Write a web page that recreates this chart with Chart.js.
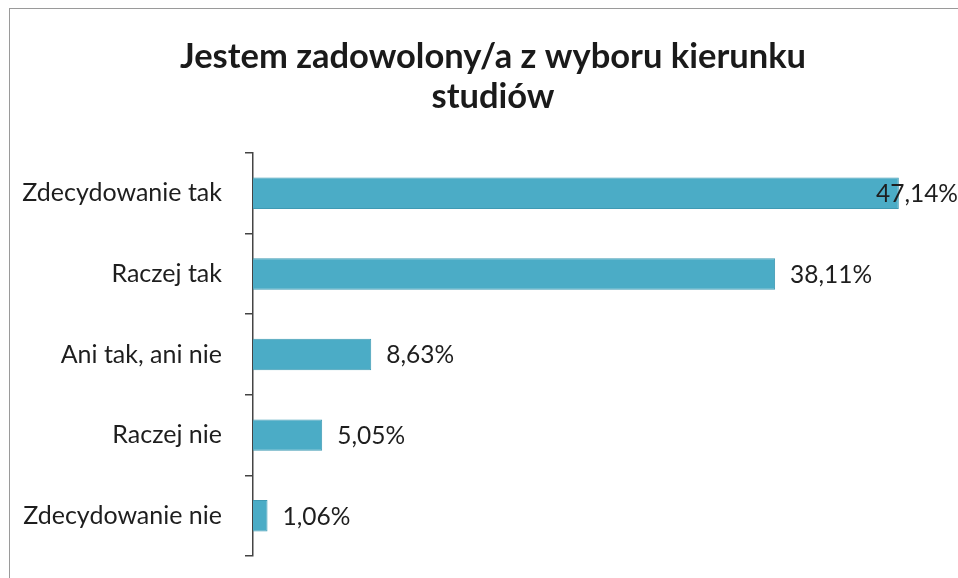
<!DOCTYPE html>
<html>
<head>
<meta charset="utf-8">
<script src="https://cdn.jsdelivr.net/npm/chart.js@4.4.1/dist/chart.umd.min.js"></script>
<style>
  html, body { margin:0; padding:0; background:#fff; overflow:hidden; }
  #wrap { position:relative; width:958px; height:578px; }
  #frame { position:absolute; left:9px; top:8px; width:960px; height:580px; border-left:1px solid #9a9a9a; border-top:1px solid #9a9a9a; box-sizing:border-box; pointer-events:none; }
  canvas { position:absolute; left:0; top:0; }
</style>
</head>
<body>
<div id="wrap">
  <canvas id="c" width="958" height="578"></canvas>
  <div id="frame"></div>
</div>
<script>
const titleLines = ['Jestem zadowolony/a z wyboru kierunku', 'studiów'];
const categories = ['Zdecydowanie tak', 'Raczej tak', 'Ani tak, ani nie', 'Raczej nie', 'Zdecydowanie nie'];
const values = [47.14, 38.11, 8.63, 5.05, 1.06];
const valueLabels = ['47,14%', '38,11%', '8,63%', '5,05%', '1,06%'];
const xMin = 0, xMax = 50;

const FONT = 'Lato, "Open Sans", sans-serif';
const LABEL_SIZE = 25;

const dataLabels = {
  id: 'dataLabels',
  afterLayout(chart) {
    // the original frame extends past the right edge; centre title on it
    if (chart.titleBlock) chart.titleBlock.left = 48;
  },
  afterDatasetsDraw(chart) {
    const ctx = chart.ctx;
    const meta = chart.getDatasetMeta(0);
    ctx.save();
    ctx.font = '24.5px ' + FONT;
    ctx.fillStyle = '#1e1e1e';
    ctx.textBaseline = 'middle';
    ctx.textAlign = 'left';
    meta.data.forEach((bar, i) => {
      const w = ctx.measureText(valueLabels[i]).width;
      let x = bar.x + 15;
      if (x + w > chart.width) x = chart.width - w;
      ctx.fillText(valueLabels[i], x, bar.y + 1);
    });
    ctx.restore();
  }
};

new Chart(document.getElementById('c'), {
  type: 'bar',
  data: {
    labels: categories,
    datasets: [{
      data: values,
      backgroundColor: '#4BACC6',
      borderColor: '#3f9ab3',
      borderWidth: 1,
      categoryPercentage: 1,
      barPercentage: 0.39
    }]
  },
  options: {
    indexAxis: 'y',
    responsive: false,
    animation: false,
    layout: { padding: { left: 0, right: 20, top: 37, bottom: 22 } },
    plugins: {
      legend: { display: false },
      tooltip: { enabled: false },
      title: {
        display: true,
        text: titleLines,
        color: '#1a1a1a',
        font: { family: FONT, size: 34.5, weight: 'bold', lineHeight: 1.16 },
        padding: { top: 0, bottom: 36 }
      }
    },
    scales: {
      x: { display: false, min: xMin, max: xMax },
      y: {
        afterFit(scale) {
          scale.width = 253;
          scale.paddingTop = 0;
          scale.paddingBottom = 0;
        },
        grid: { offset: true, drawOnChartArea: false, tickLength: 8, color: '#444', lineWidth: 1.5 },
        border: { display: true, color: '#444', width: 1.5 },
        ticks: { color: '#1e1e1e', padding: 23, font: { family: FONT, size: LABEL_SIZE } }
      }
    }
  },
  plugins: [dataLabels]
});
</script>
</body>
</html>
